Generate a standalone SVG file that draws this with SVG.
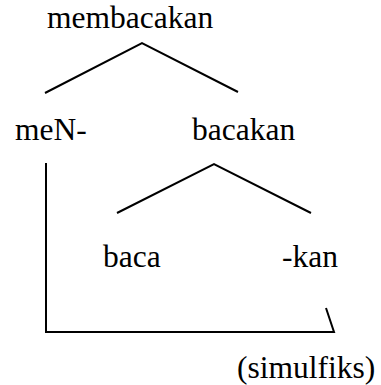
<svg xmlns="http://www.w3.org/2000/svg" width="381" height="385" viewBox="0 0 381 385">
  <style>
    .lbl { font-family: "Liberation Serif", "Times New Roman", serif; font-size: 31.5px; fill: #000; }
    .edge { stroke: #000; stroke-width: 2; fill: none; }
  </style>
  <rect width="381" height="385" fill="#fff"/>
  <!-- tree branches and the bracket linking meN- to -kan -->
  <g id="connectors">
    <polyline class="edge" points="45,93 142,43 238,92"/>
    <polyline class="edge" points="117,213 214,164 311,213"/>
    <polyline class="edge" points="46,163 46,332 334,332 326,308"/>
  </g>
  <g id="node-membacakan"><text class="lbl" x="47" y="28">membacakan</text></g>
  <g id="node-meN"><text class="lbl" x="15" y="140">meN-</text></g>
  <g id="node-bacakan"><text class="lbl" x="192" y="140">bacakan</text></g>
  <g id="node-baca"><text class="lbl" x="103" y="267">baca</text></g>
  <g id="node-kan"><text class="lbl" x="282" y="267">-kan</text></g>
  <g id="node-simulfiks"><text class="lbl" x="237" y="378">(simulfiks)</text></g>
</svg>
